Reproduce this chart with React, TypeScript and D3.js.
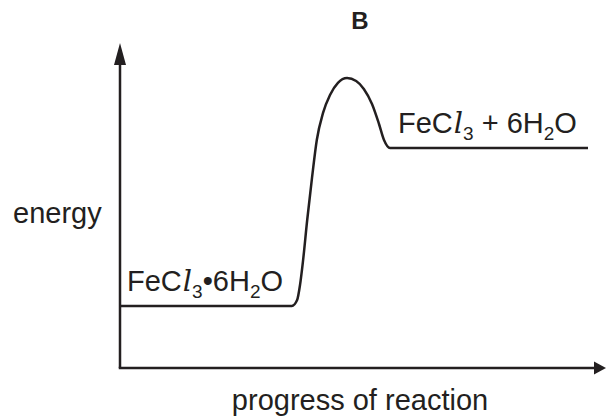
import React from "react";
import * as d3 from "d3";

// reaction profile (arbitrary units 0-100)
const progress = [0, 35.8, 36.9, 37.5, 38.1, 39.0, 40.0, 41.0, 42.3, 43.75, 45.4, 47.3, 49.2, 50.8, 52.5, 53.96, 55.0, 56.25, 97.5];
const energy = [19.4, 19.4, 21.25, 25.9, 33.1, 46.25, 59.4, 71.25, 79.7, 85.3, 89.1, 90.6, 89.7, 87.2, 82.5, 76.25, 71.25, 68.75, 68.75];

const title = "B";
const xLabel = "progress of reaction";
const yLabel = "energy";

const width = 607;
const height = 417;
const FONT = "'Liberation Sans', Arial, sans-serif";
const INK = "#231f20";
const FS = 29;
const SUB = 19;

const App = () => {
  const x = d3.scaleLinear().domain([0, 100]).range([120, 600]);
  const y = d3.scaleLinear().domain([0, 100]).range([368, 48]);

  const pts = progress.map((p, i) => [x(p), y(energy[i])] as [number, number]);
  const line = d3.line().curve(d3.curveMonotoneX)(pts) || "";

  const ox = x(0);
  const oy = y(0);
  const yTop = 43;
  const xEnd = 606;

  return (
    <svg width={width} height={height} style={{ position: "absolute", left: 0, top: 0 }}>
      <rect width={width} height={height} fill="#fff" />
      {/* axes */}
      <path d={`M${ox},${oy}V${yTop + 18}`} stroke={INK} strokeWidth={2.5} fill="none" />
      <path d={`M${ox},${yTop}L${ox - 6},${yTop + 22}L${ox + 6},${yTop + 22}Z`} fill={INK} />
      <path d={`M${ox - 1.25},${oy}H${xEnd - 10}`} stroke={INK} strokeWidth={2.5} fill="none" />
      <path d={`M${xEnd},${oy}L${xEnd - 12},${oy - 6.5}L${xEnd - 12},${oy + 6.5}Z`} fill={INK} />

      {/* energy profile */}
      <path d={line} stroke={INK} strokeWidth={2.5} fill="none" strokeLinejoin="round" />

      {/* labels */}
      <text x={360} y={29} textAnchor="middle" fontFamily={FONT} fontWeight="bold" fontSize={24} fill={INK}>{title}</text>
      <text x={13} y={223} fontFamily={FONT} fontSize={FS} fill={INK}>{yLabel}</text>
      <text x={360} y={410} textAnchor="middle" fontFamily={FONT} fontSize={FS} fill={INK}>{xLabel}</text>

      <text x={127} y={291} fontFamily={FONT} fontSize={FS} fill={INK}>
        FeC
        <tspan fontFamily="'DejaVu Serif', serif" fontStyle="italic" dx={1}>l</tspan>
        <tspan fontSize={SUB} dy={7}>3</tspan>
        <tspan dy={-7}>•6H</tspan>
        <tspan fontSize={SUB} dy={7}>2</tspan>
        <tspan dy={-7}>O</tspan>
      </text>

      <text x={398} y={133} fontFamily={FONT} fontSize={FS} fill={INK}>
        FeC
        <tspan fontFamily="'DejaVu Serif', serif" fontStyle="italic" dx={1}>l</tspan>
        <tspan fontSize={SUB} dy={7}>3</tspan>
        <tspan dy={-7}> + 6H</tspan>
        <tspan fontSize={SUB} dy={7}>2</tspan>
        <tspan dy={-7}>O</tspan>
      </text>
    </svg>
  );
};

export default App;
